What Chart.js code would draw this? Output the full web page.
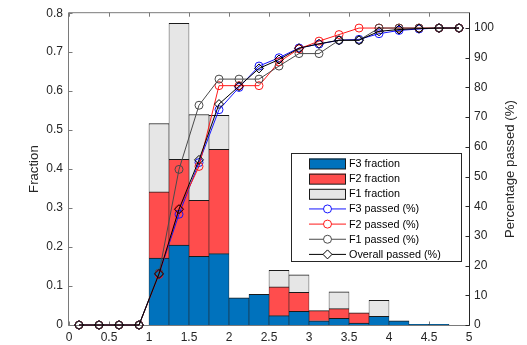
<!DOCTYPE html>
<html>
<head>
<meta charset="utf-8">
<script src="https://cdn.jsdelivr.net/npm/chart.js@4/dist/chart.umd.min.js"></script>
<style>
html,body{margin:0;padding:0;background:#fff;}
#wrap{width:527px;height:345px;position:relative;}
</style>
</head>
<body>
<div id="wrap"><canvas id="c"></canvas></div>
<script>
// ---- data ----
const binCenters = [1.125, 1.375, 1.625, 1.875, 2.125, 2.375, 2.625, 2.875, 3.125, 3.375, 3.625, 3.875, 4.125, 4.375, 4.625];
const f3Fraction = [0.172, 0.205, 0.176, 0.183, 0.070, 0.079, 0.024, 0.035, 0.011, 0.017, 0.005, 0.022, 0.011, 0.002, 0.002];
const f2Fraction = [0.170, 0.220, 0.144, 0.268, 0, 0, 0.074, 0.049, 0.026, 0.025, 0.026, 0, 0, 0, 0];
const f1Fraction = [0.175, 0.349, 0.220, 0.087, 0, 0, 0.042, 0.045, 0, 0.043, 0, 0.041, 0, 0, 0];

const passX = [0.125, 0.375, 0.625, 0.875, 1.125, 1.375, 1.625, 1.875, 2.125, 2.375, 2.625, 2.875, 3.125, 3.375, 3.625, 3.875, 4.125, 4.375, 4.625, 4.875];
const f3Passed = [0, 0, 0, 0, 17.2, 37.3, 54.7, 72.5, 80.0, 87.2, 90.0, 93.3, 94.6, 95.9, 96.2, 98.1, 99.2, 99.7, 100, 100];
const f2Passed = [0, 0, 0, 0, 17.0, 39.0, 53.4, 80.6, 80.6, 80.6, 88.6, 93.0, 95.6, 97.8, 100, 100, 100, 100, 100, 100];
const f1Passed = [0, 0, 0, 0, 17.5, 52.4, 74.0, 82.8, 82.8, 82.8, 87.2, 91.4, 91.4, 95.9, 95.9, 100, 100, 100, 100, 100];
const overallPassed = [0, 0, 0, 0, 17.2, 39.0, 55.6, 74.4, 80.4, 86.4, 89.4, 93.2, 94.7, 95.9, 95.9, 98.9, 99.5, 99.8, 100, 100];

const xTickStep = 0.5;
const leftTickStep = 0.1;
const rightTickStep = 10;

const labels = {
  f3f: 'F3 fraction', f2f: 'F2 fraction', f1f: 'F1 fraction',
  f3p: 'F3 passed (%)', f2p: 'F2 passed (%)', f1p: 'F1 passed (%)', all: 'Overall passed (%)',
  yLeft: 'Fraction', yRight: 'Percentage passed (%)'
};

// ---- styling ----
const FONT = '"Liberation Sans", Arial, Helvetica, sans-serif';
const TXT = '#262626';
const toXY = (xs, ys) => xs.map((x, i) => ({x: x, y: ys[i]}));
const barXY = (xs, ys) => xs.map((x, i) => ({x: x, y: ys[i] > 0 ? ys[i] : null}));

function barSet(label, data, color) {
  return {
    type: 'bar', label: label, data: barXY(binCenters, data), xAxisID: 'x', yAxisID: 'y',
    stack: 's', backgroundColor: color, borderColor: '#1a1a1a',
    borderWidth: {top: 1, left: 0.6, right: 0.6, bottom: 0},
    barPercentage: 1, categoryPercentage: 1, order: 10
  };
}
function lineSet(label, data, color, style, radius, order, lw) {
  return {
    type: 'line', label: label, data: toXY(passX, data), xAxisID: 'x', yAxisID: 'y2',
    borderColor: color, borderWidth: lw, backgroundColor: 'rgba(0,0,0,0)',
    pointStyle: style, pointRadius: radius, pointBorderWidth: 1, pointHoverRadius: radius,
    pointBorderColor: color, pointBackgroundColor: 'rgba(0,0,0,0)',
    fill: false, tension: 0, clip: false, order: order
  };
}

const datasets = [
  barSet(labels.f3f, f3Fraction, '#0072BD'),
  barSet(labels.f2f, f2Fraction, '#FF4D4D'),
  barSet(labels.f1f, f1Fraction, '#E6E6E6'),
  lineSet(labels.f3p, f3Passed, '#1515ff', 'circle', 4, 4, 1),
  lineSet(labels.f2p, f2Passed, '#ff1a1a', 'circle', 4, 3, 1),
  lineSet(labels.f1p, f1Passed, '#4a4a4a', 'circle', 4, 2, 1),
  lineSet(labels.all, overallPassed, '#000000', 'rectRot', 4.5, 1, 1)
];

const fmtX = v => String(+(+v).toFixed(1));
const fmtL = v => (Math.abs(v) < 1e-9 ? '0' : (+v).toFixed(1));

const decor = {
  id: 'decor',
  beforeDatasetsDraw(chart) {
    const {ctx, chartArea: a, scales} = chart;
    const L = a.left - 0.5, R = a.right + 0.5, T = a.top - 0.5, B = a.bottom + 0.5;
    ctx.save();
    ctx.lineWidth = 1;
    // left / top / bottom
    ctx.strokeStyle = '#7a7a7a';
    ctx.beginPath();
    ctx.moveTo(R, T); ctx.lineTo(L, T); ctx.lineTo(L, B); ctx.lineTo(R, B);
    ctx.stroke();
    // x ticks (bottom up, top down)
    ctx.beginPath();
    scales.x.ticks.forEach(t => {
      const px = Math.round(scales.x.getPixelForValue(t.value)) + 0.5;
      ctx.moveTo(px, B); ctx.lineTo(px, B - 4);
      ctx.moveTo(px, T); ctx.lineTo(px, T + 4);
    });
    scales.y.ticks.forEach(t => {
      const py = Math.round(scales.y.getPixelForValue(t.value)) + 0.5;
      ctx.moveTo(L, py); ctx.lineTo(L + 4, py);
    });
    ctx.stroke();
    // right axis
    ctx.strokeStyle = '#262626';
    ctx.beginPath();
    ctx.moveTo(R, T); ctx.lineTo(R, B);
    scales.y2.ticks.forEach(t => {
      const py = Math.round(scales.y2.getPixelForValue(t.value)) + 0.5;
      ctx.moveTo(R, py); ctx.lineTo(R - 4, py);
    });
    ctx.stroke();
    ctx.restore();
  },
  afterDraw(chart) {
    const {ctx, chartArea: a} = chart;
    const midY = (a.top + a.bottom) / 2;
    ctx.save();
    ctx.fillStyle = TXT;
    ctx.font = '13.2px ' + FONT;
    ctx.textAlign = 'center';
    ctx.textBaseline = 'middle';
    ctx.save(); ctx.translate(34, midY); ctx.rotate(-Math.PI / 2); ctx.fillText(labels.yLeft, 0, 0); ctx.restore();
    ctx.save(); ctx.translate(510, midY); ctx.rotate(-Math.PI / 2); ctx.fillText(labels.yRight, 0, 0); ctx.restore();

    // legend
    const bx = 291.5, by = 153.5, bw = 170, bh = 108;
    ctx.fillStyle = '#ffffff';
    ctx.fillRect(bx, by, bw, bh);
    ctx.strokeStyle = '#262626';
    ctx.lineWidth = 1;
    ctx.strokeRect(bx, by, bw, bh);
    const sx0 = 309, sx1 = 346, tx = 349, row0 = 163.5, step = 15.15;
    ctx.font = '10.8px ' + FONT;
    ctx.textAlign = 'left';
    ctx.textBaseline = 'middle';
    chart.data.datasets.forEach((ds, i) => {
      const cy = row0 + i * step;
      if (ds.type === 'bar') {
        ctx.fillStyle = ds.backgroundColor;
        ctx.fillRect(sx0, cy - 5, sx1 - sx0, 10.5);
        ctx.strokeStyle = '#1a1a1a';
        ctx.strokeRect(sx0 + 0.5, cy - 5 + 0.5, sx1 - sx0 - 1, 10);
      } else {
        ctx.strokeStyle = ds.borderColor;
        ctx.lineWidth = 1;
        ctx.beginPath();
        ctx.moveTo(sx0, cy); ctx.lineTo(sx1, cy);
        ctx.stroke();
        const mx = (sx0 + sx1) / 2;
        ctx.fillStyle = '#ffffff';
        ctx.beginPath();
        if (ds.pointStyle === 'rectRot') {
          const r = ds.pointRadius;
          ctx.moveTo(mx, cy - r); ctx.lineTo(mx + r, cy); ctx.lineTo(mx, cy + r); ctx.lineTo(mx - r, cy); ctx.closePath();
        } else {
          ctx.arc(mx, cy, ds.pointRadius, 0, Math.PI * 2);
        }
        ctx.fill();
        ctx.stroke();
      }
      ctx.fillStyle = '#000000';
      ctx.fillText(ds.label, tx, cy + 0.5);
    });
    ctx.restore();
  }
};

new Chart(document.getElementById('c'), {
  type: 'bar',
  data: {datasets: datasets},
  options: {
    responsive: true,
    maintainAspectRatio: false,
    animation: false,
    devicePixelRatio: 1,
    layout: {padding: {top: 10, left: 0, right: 0, bottom: 0}},
    plugins: {legend: {display: false}, tooltip: {enabled: false}, title: {display: false}},
    scales: {
      x: {
        type: 'linear', position: 'bottom', min: 0, max: 5, offset: false,
        grid: {display: false, drawTicks: false}, border: {display: false},
        ticks: {stepSize: xTickStep, padding: 5, color: TXT, font: {family: FONT, size: 12},
                callback: fmtX, maxRotation: 0, autoSkip: false, includeBounds: false},
        afterFit: s => { s.height = 20; }
      },
      y: {
        type: 'linear', position: 'left', stacked: true, min: 0, max: 0.8,
        grid: {display: false, drawTicks: false}, border: {display: false},
        ticks: {stepSize: leftTickStep, padding: 6, color: TXT, font: {family: FONT, size: 12}, callback: fmtL},
        afterFit: s => { s.width = 69; }
      },
      y2: {
        type: 'linear', position: 'right', min: 0, max: 105,
        grid: {display: false, drawTicks: false}, border: {display: false},
        ticks: {stepSize: rightTickStep, padding: 5, color: TXT, font: {family: FONT, size: 12}, includeBounds: false},
        afterFit: s => { s.width = 58; }
      }
    }
  },
  plugins: [decor]
});
</script>
</body>
</html>
